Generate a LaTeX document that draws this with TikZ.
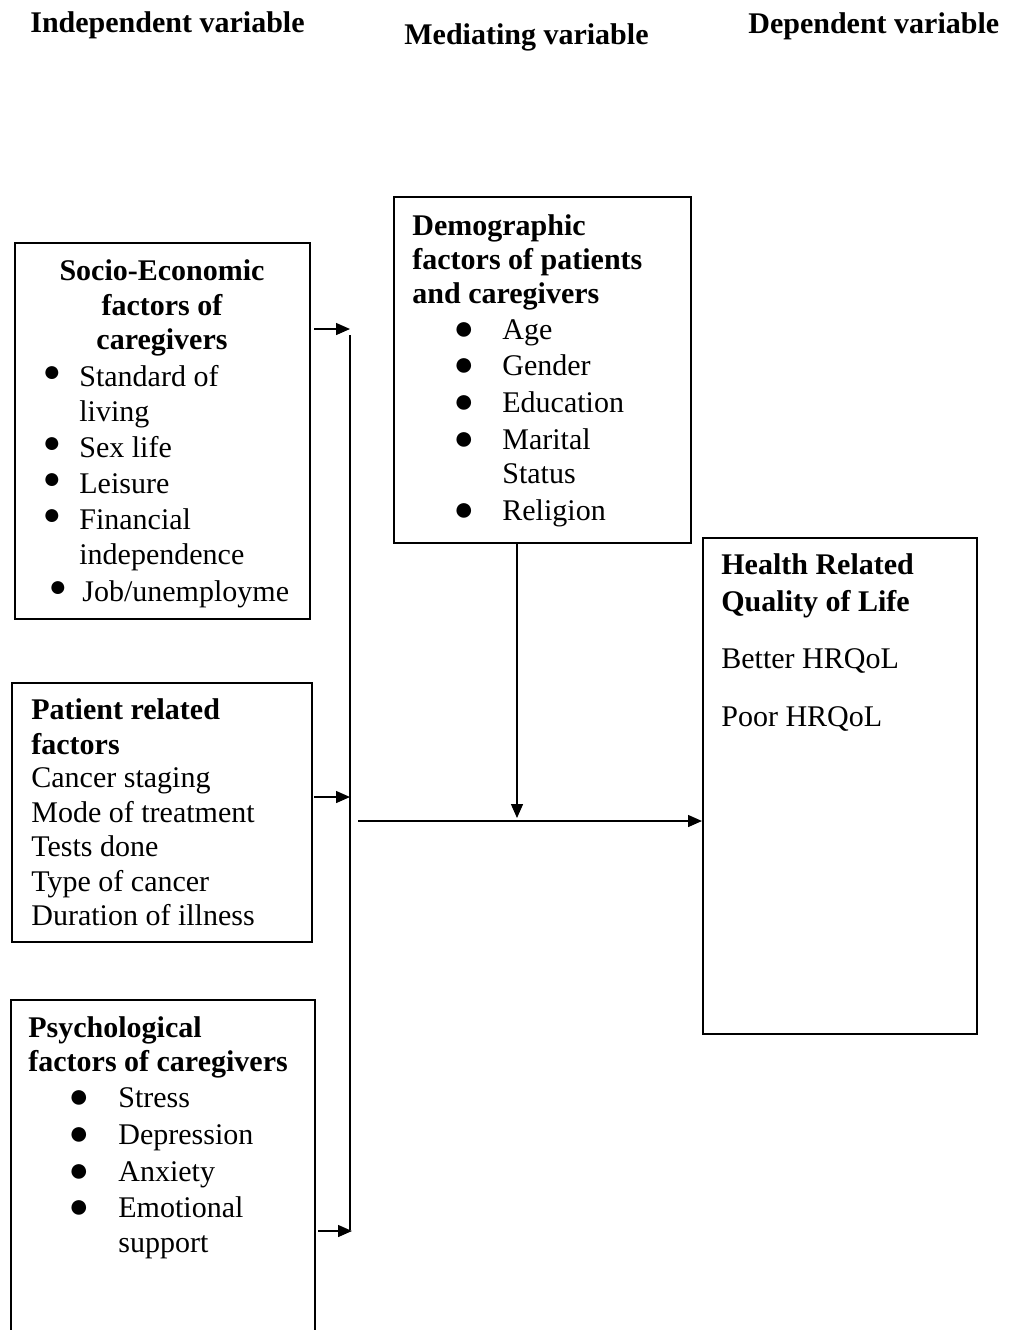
\documentclass[tikz,border=0pt]{standalone}
\usepackage{fontspec}
\setmainfont{Liberation Serif}
\usetikzlibrary{arrows.meta}

\newcommand{\smallbul}{\raisebox{2.5pt}{\fontsize{15}{15}\selectfont ●}}
\newcommand{\bigbul}{{\fontsize{17}{17}\selectfont ●}}

\tikzset{
	every node/.style={font=\fontsize{15}{17.5}\selectfont, inner sep=0pt},
	box/.style={draw, line width=1pt, anchor=north west, inner sep=0pt},
	txt/.style={anchor=base west},
	hd/.style={anchor=base west, font=\fontsize{15}{17.5}\selectfont\bfseries},
	bul/.style={anchor=base},
	link/.style={line width=0.7pt},
	conn/.style={line width=0.7pt, -{Triangle[length=7pt,width=6pt]}},
}

\begin{document}
\begin{tikzpicture}[x=0.5pt,y=-0.5pt]
	\useasboundingbox (0,0) rectangle (1011,1330);
	\clip (0,0) rectangle (1011,1330);

	% column titles
	\node[hd] (tind) at (30,32) {Independent variable};
	\node[hd] (tmed) at (404,44) {Mediating variable};
	\node[hd] (tdep) at (748,33) {Dependent variable};

	% boxes
	\node[box, minimum width=147.5pt, minimum height=188pt] (socio) at (14,242) {};
	\node[box, minimum width=148.5pt, minimum height=173pt] (demo) at (393,196) {};
	\node[box, minimum width=137pt, minimum height=248pt] (health) at (702,537) {};
	\node[box, minimum width=150pt, minimum height=129.5pt] (patient) at (11,682) {};
	\node[box, minimum width=152pt, minimum height=173pt] (psych) at (10,999) {};

	% socio-economic
	\node[hd, anchor=base] (s1) at (162,280) {Socio-Economic};
	\node[hd, anchor=base] (s2) at (162,315) {factors of};
	\node[hd, anchor=base] (s3) at (162,349) {caregivers};
	\foreach \y in {386,457,493,529}
		\node[bul] at (52,\y) {\smallbul};
	\foreach \y/\t in {386/Standard of,421/living,457/Sex life,493/Leisure,529/Financial,564/independence}
		\node[txt] at (79,\y) {\t};
	\node[bul] at (58,601) {\smallbul};
	\node[txt] (sjob) at (82,601) {Job/unemployme};

	% demographic
	\node[hd] (d1) at (412,235) {Demographic};
	\node[hd] (d2) at (412,269) {factors of patients};
	\node[hd] (d3) at (412,303) {and caregivers};
	\foreach \y in {339,375,412,449,520}
		\node[bul] at (464,\y) {\bigbul};
	\foreach \y/\t in {339/Age,375/Gender,412/Education,449/Marital,483/Status,520/Religion}
		\node[txt] at (502,\y) {\t};

	% health related quality of life
	\node[hd] (h1) at (721,574) {Health Related};
	\node[hd] (h2) at (721,611) {Quality of Life};
	\node[txt] (h3) at (721,668) {Better HRQoL};
	\node[txt] (h4) at (721,726) {Poor HRQoL};

	% patient related
	\node[hd] (p1) at (31,719) {Patient related};
	\node[hd] (p2) at (31,754) {factors};
	\foreach \y/\t in {787/Cancer staging,822/Mode of treatment,856/Tests done,891/Type of cancer,925/Duration of illness}
		\node[txt] at (31,\y) {\t};

	% psychological
	\node[hd] (q1) at (28,1037) {Psychological};
	\node[hd] (q2) at (28,1071) {factors of caregivers};
	\foreach \y in {1107,1144,1181,1217}
		\node[bul] at (79,\y) {\bigbul};
	\foreach \y/\t in {1107/Stress,1144/Depression,1181/Anxiety,1217/Emotional,1252/support}
		\node[txt] at (118,\y) {\t};

	% connectors
	\coordinate (b1) at (350,329);
	\coordinate (b2) at (350,797);
	\coordinate (b3) at (352,1231);
	\coordinate (btop) at (350,335);
	\coordinate (bbot) at (350,1230);
	\coordinate (m) at (358,821);
	\coordinate (j) at (517,818);

	\draw[conn] ([xshift=1.5pt]socio.east |- b1) -- (b1);
	\draw[conn] ([xshift=0.5pt]patient.east |- b2) -- (b2);
	\draw[conn] ([xshift=1pt]psych.east |- b3) -- (b3);
	\draw[link] (btop) -- (bbot);
	\draw[conn] (m) -- (m -| health.west);
	\draw[conn] (j |- demo.south) -- (j);
\end{tikzpicture}
\end{document}
